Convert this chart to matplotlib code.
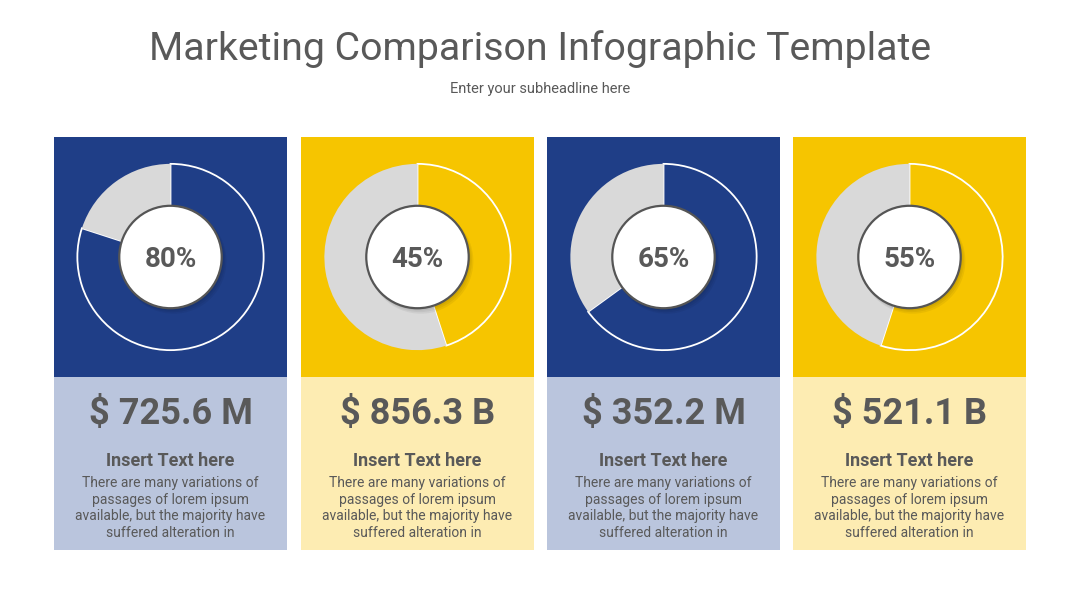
import matplotlib.pyplot as plt
from matplotlib.patches import Rectangle, Circle

plt.rcParams['font.family'] = ['Roboto', 'DejaVu Sans']

# data
percents = [80, 45, 65, 55]
amounts = ["$ 725.6 M", "$ 856.3 B", "$ 352.2 M", "$ 521.1 B"]
headings = ["Insert Text here"] * 4
body = ("There are many variations of\npassages of lorem ipsum\n"
        "available, but the majority have\nsuffered alteration in")

# colours
dark = ["#1F3E87", "#F6C500", "#1F3E87", "#F6C500"]
light = ["#BAC5DD", "#FDECB2", "#BAC5DD", "#FDECB2"]
grey_slice = "#D9D9D9"
txt = "#595959"

W, H = 1080, 608
fig = plt.figure(figsize=(W / 100, H / 100), dpi=100)
fig.patch.set_facecolor("white")

bg = fig.add_axes([0, 0, 1, 1])
bg.set_xlim(0, W)
bg.set_ylim(H, 0)
bg.axis("off")

bg.text(540, 49, "Marketing Comparison Infographic Template", ha="center", va="center",
        fontsize=28.3, color=txt)
bg.text(540, 89, "Enter your subheadline here", ha="center", va="center",
        fontsize=10.5, color=txt)

lefts = [54, 301, 547, 793]
pw = 233
top, mid, bottom = 137, 377, 550
r_out = 93

for i, p in enumerate(percents):
    x0 = lefts[i]
    cx = x0 + pw / 2
    cy = 257
    bg.add_patch(Rectangle((x0, top), pw, mid - top, color=dark[i], lw=0))
    bg.add_patch(Rectangle((x0, mid), pw, bottom - mid, color=light[i], lw=0))

    # donut
    pax = fig.add_axes([(cx - r_out - 2) / W, 1 - (cy + r_out + 2) / H,
                        (2 * r_out + 4) / W, (2 * r_out + 4) / H])
    wedges, _ = pax.pie([p, 100 - p], colors=[dark[i], grey_slice], startangle=90,
                        counterclock=False, radius=1.0,
                        wedgeprops=dict(linewidth=0))
    wedges[0].set_edgecolor("white")
    wedges[0].set_linewidth(1.3)
    # soft shadow under the centre disc
    for k, a in enumerate([0.05, 0.05, 0.05]):
        pax.add_patch(Circle((0.015 + 0.01 * k, -0.02 - 0.012 * k), 0.555 + 0.005 * k,
                             color="#000000", alpha=a, lw=0, zorder=3))
    pax.add_patch(Circle((0, 0), 0.55, facecolor="white", edgecolor="#555555",
                         lw=1.6, zorder=4))
    pax.text(0, -0.03, f"{p}%", ha="center", va="center", fontsize=20,
             fontweight="bold", color=txt, zorder=5)
    pax.set_xlim(-1.02, 1.02)
    pax.set_ylim(-1.02, 1.02)
    pax.set_aspect("equal")
    pax.axis("off")

    bg.text(cx, 414, amounts[i], ha="center", va="center", fontsize=26,
            fontweight="bold", color=txt)
    bg.text(cx, 461, headings[i], ha="center", va="center", fontsize=13,
            fontweight="bold", color=txt)
    bg.text(cx, 508, body, ha="center", va="center", fontsize=10,
            color=txt, linespacing=1.25)

fig.savefig("out.png", dpi=100)
